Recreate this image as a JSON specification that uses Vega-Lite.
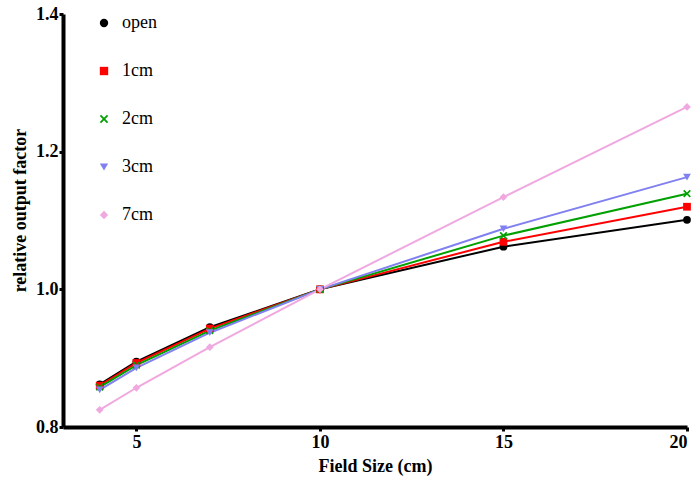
{
  "$schema": "https://vega.github.io/schema/vega-lite/v6.json",
  "autosize": {"type": "none"},
  "padding": {"left": 63, "top": 14, "right": 7, "bottom": 55},
  "width": 624,
  "height": 413,
  "background": "white",
  "config": {
    "view": {"stroke": null},
    "font": "Liberation Serif"
  },
  "data": {
    "values": [
      {"size": 4, "series": "open", "factor": 0.862},
      {"size": 5, "series": "open", "factor": 0.895},
      {"size": 7, "series": "open", "factor": 0.945},
      {"size": 10, "series": "open", "factor": 1.0},
      {"size": 15, "series": "open", "factor": 1.062},
      {"size": 20, "series": "open", "factor": 1.101},
      {"size": 4, "series": "1cm", "factor": 0.860},
      {"size": 5, "series": "1cm", "factor": 0.893},
      {"size": 7, "series": "1cm", "factor": 0.943},
      {"size": 10, "series": "1cm", "factor": 1.0},
      {"size": 15, "series": "1cm", "factor": 1.069},
      {"size": 20, "series": "1cm", "factor": 1.120},
      {"size": 4, "series": "2cm", "factor": 0.858},
      {"size": 5, "series": "2cm", "factor": 0.890},
      {"size": 7, "series": "2cm", "factor": 0.940},
      {"size": 10, "series": "2cm", "factor": 1.0},
      {"size": 15, "series": "2cm", "factor": 1.078},
      {"size": 20, "series": "2cm", "factor": 1.139},
      {"size": 4, "series": "3cm", "factor": 0.854},
      {"size": 5, "series": "3cm", "factor": 0.886},
      {"size": 7, "series": "3cm", "factor": 0.937},
      {"size": 10, "series": "3cm", "factor": 1.0},
      {"size": 15, "series": "3cm", "factor": 1.088},
      {"size": 20, "series": "3cm", "factor": 1.163},
      {"size": 4, "series": "7cm", "factor": 0.825},
      {"size": 5, "series": "7cm", "factor": 0.857},
      {"size": 7, "series": "7cm", "factor": 0.916},
      {"size": 10, "series": "7cm", "factor": 1.0},
      {"size": 15, "series": "7cm", "factor": 1.134},
      {"size": 20, "series": "7cm", "factor": 1.265}
    ]
  },
  "encoding": {
    "x": {
      "field": "size", "type": "quantitative",
      "scale": {"domain": [3, 20], "nice": false, "zero": false},
      "axis": {
        "title": "Field Size (cm)", "values": [5, 10, 15, 20],
        "grid": false, "domainColor": "black", "domainWidth": 4,
        "tickColor": "black", "tickWidth": 3, "tickSize": 4,
        "labelFont": "Liberation Serif", "labelFontWeight": "bold", "labelFontSize": 18, "labelColor": "black",
        "labelPadding": 2,
        "titleFont": "Liberation Serif", "titleFontWeight": "bold", "titleFontSize": 18, "titleColor": "black",
        "titlePadding": 6
      }
    },
    "y": {
      "field": "factor", "type": "quantitative",
      "scale": {"domain": [0.8, 1.4], "nice": false, "zero": false},
      "axis": {
        "title": "relative output factor", "values": [0.8, 1.0, 1.2, 1.4], "format": ".1f",
        "grid": false, "domainColor": "black", "domainWidth": 4,
        "tickColor": "black", "tickWidth": 3, "tickSize": 4,
        "labelFont": "Liberation Serif", "labelFontWeight": "bold", "labelFontSize": 18, "labelColor": "black",
        "labelPadding": 1,
        "titleFont": "Liberation Serif", "titleFontWeight": "bold", "titleFontSize": 18, "titleColor": "black",
        "titleX": -34, "titleY": 196
      }
    },
    "color": {
      "field": "series", "type": "nominal",
      "scale": {
        "domain": ["open", "1cm", "2cm", "3cm", "7cm"],
        "range": ["#000000", "#ff0000", "#00a000", "#8080f0", "#f0a8e0"]
      },
      "legend": {
        "orient": "none", "legendX": 32, "legendY": 0,
        "title": null,
        "labelFont": "Liberation Serif", "labelFontSize": 18, "labelColor": "black",
        "symbolSize": 70, "symbolStrokeWidth": 0,
        "rowPadding": 30, "labelOffset": 9
      }
    }
  },
  "layer": [
    {
      "mark": {"type": "line", "strokeWidth": 2}
    },
    {
      "mark": {"type": "point", "filled": true, "size": 60, "opacity": 1},
      "encoding": {
        "shape": {
          "field": "series", "type": "nominal",
          "scale": {
            "domain": ["open", "1cm", "2cm", "3cm", "7cm"],
            "range": ["circle", "square", "M-1,-0.7L-0.7,-1L0,-0.3L0.7,-1L1,-0.7L0.3,0L1,0.7L0.7,1L0,0.3L-0.7,1L-1,0.7L-0.3,0Z", "triangle-down", "diamond"]
          },
          "legend": {
            "orient": "none", "legendX": 32, "legendY": 0,
            "title": null,
            "labelFont": "Liberation Serif", "labelFontSize": 18, "labelColor": "black",
            "symbolSize": 70, "symbolStrokeWidth": 0,
            "rowPadding": 30, "labelOffset": 9
          }
        }
      }
    }
  ]
}
